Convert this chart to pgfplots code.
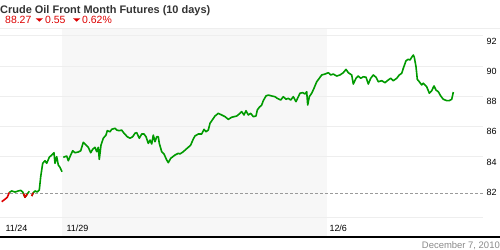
\documentclass[border=0pt]{standalone}
\usepackage{pgfplots}
\pgfplotsset{compat=1.18}
\usepackage{fontspec}
\setmainfont{Liberation Sans}
\definecolor{lgreen}{HTML}{009A00}
\definecolor{lred}{HTML}{DD0000}
\definecolor{gridc}{HTML}{EEEEEE}
\definecolor{shadec}{HTML}{F7F7F7}
\definecolor{titlec}{HTML}{333333}
\definecolor{datec}{HTML}{8A8A8A}
\definecolor{dashc}{HTML}{9A9A9A}
\begin{document}
\begin{tikzpicture}
\useasboundingbox (0,0) rectangle (500bp,250bp);
\begin{axis}[
  at={(0bp,13bp)}, anchor=south west,
  scale only axis, width=483bp, height=209bp,
  xmin=0, xmax=483, ymin=78.67, ymax=92.51,
  clip=false,
  axis on top,
  axis line style={draw=none},
  major tick length=0,
  /pgf/number format/assume math mode=true,
  xtick={2,63,326}, xticklabels={11/24,11/29,12/6},
  xticklabel style={anchor=base west, yshift=5.3bp, font=\fontsize{9}{10}\selectfont},
  ytick={82,84,86,88,90,92},
  yticklabel pos=right,
  yticklabel style={anchor=west, yshift=-5.5bp, font=\fontsize{9}{10}\selectfont},
]
\fill[shadec] (axis cs:62,78.67) rectangle (axis cs:327,92.51);
\draw[gridc, line width=0.8bp] (axis cs:0,80) -- (axis cs:483,80);
\draw[gridc, line width=0.8bp] (axis cs:0,84) -- (axis cs:483,84);
\draw[gridc, line width=0.8bp] (axis cs:0,86) -- (axis cs:483,86);
\draw[gridc, line width=0.8bp] (axis cs:0,88) -- (axis cs:483,88);
\draw[gridc, line width=0.8bp] (axis cs:0,90) -- (axis cs:483,90);
\draw[gridc, line width=0.8bp] (axis cs:0,92) -- (axis cs:483,92);
\draw[gridc, line width=0.8bp] (axis cs:0,92.51) -- (axis cs:500,92.51);
\draw[dashc, line width=0.8bp, dash pattern=on 3bp off 2bp] (axis cs:0,81.58) -- (axis cs:483,81.58);
\addplot[lgreen, line width=1.6bp, unbounded coords=jump, line join=round] table {
x y
9.3 81.62
11.7 81.72
15 81.65
18.3 81.72
20.7 81.76
22.7 81.65
25 81.30
27.3 81.52
29.3 81.70
30.5 nan
31.7 81.38
33.3 81.60
35 81.72
37.3 81.65
39.3 81.78
40.7 82.66
42.7 83.55
45 83.72
46.7 83.55
49.3 83.95
51.7 84.10
54 84.25
55 83.55
56.7 83.99
58.3 83.44
60 83.28
62 82.99
62.6 nan
63.3 83.95
66.7 84.03
68.3 83.72
70.7 84.10
72.7 84.38
75 84.25
78.3 84.30
80.7 84.38
83.3 84.94
86 84.76
88.3 84.61
90.7 84.25
92.7 84.48
95 84.61
96.7 84.32
98.3 84.61
99.3 83.81
101 84.76
103.3 85.21
106 85.42
107.3 85.71
110 85.64
111.7 85.80
115 85.87
116.7 85.75
119.3 85.71
121.7 85.75
124 85.54
127.3 85.31
130 85.21
132.7 85.31
135 85.54
136.7 85.58
139.3 85.21
141.7 85.49
144 85.49
146 85.31
148.3 84.87
150 85.09
151.7 84.83
153.3 85.42
155 84.98
156.7 85.31
158.3 85.31
159.3 84.87
161.7 84.32
164 84.17
166.7 83.77
168.3 83.59
170.7 83.88
175 84.10
178.3 84.21
180 84.17
183.3 84.32
186 84.48
188.3 84.61
190.7 84.76
193.3 85.16
195 85.36
198.3 85.49
201.7 85.49
204 85.80
206 85.64
208.3 85.75
210 86.20
212.7 86.46
215 86.68
218.3 86.86
221.7 86.75
225 86.64
228.3 86.46
231.7 86.60
236.7 86.68
240 86.86
241.7 86.97
244 86.75
246 87.03
248.3 86.75
250.7 86.86
253.3 86.64
256 86.68
257.3 87.08
259.3 87.26
261.7 87.41
263.3 87.70
266 88.01
268.3 88.07
271.7 88.01
275 87.96
277.3 87.85
280.7 87.74
283.3 87.96
286 87.79
288.3 87.85
290.7 87.74
293.3 87.96
296 87.63
298.3 87.96
300 88.19
302.7 88.23
305 88.14
306.7 88.29
307.7 87.41
309.3 87.96
311.7 88.19
314 88.52
316.7 88.95
319.3 89.18
321.7 89.40
325 89.46
328.3 89.55
330.7 89.40
333.3 89.46
336.7 89.33
340 89.40
343.3 89.55
346 89.77
348.3 89.55
351.7 89.40
353.3 88.80
356 89.18
358.3 89.33
360.7 89.18
363.3 89.28
366 89.25
368.3 88.80
370.7 89.18
373.3 89.40
376 89.25
378.3 88.95
381.7 89.02
385 88.89
388.3 89.07
390.7 89.18
393.3 89.02
396.7 89.18
399.3 89.40
401.7 89.51
403.3 89.84
406 90.34
408.3 90.44
410 90.39
411.7 90.57
413.3 90.72
414.3 90.57
416 89.95
417.3 89.11
419.3 88.95
421.7 88.74
423.3 88.85
425 88.74
426.7 88.62
429.3 88.19
431.7 88.36
434 88.67
436 88.40
438.3 88.29
440.7 88.01
443.3 87.79
446.7 87.70
449.3 87.70
451.7 87.79
452.7 88.07
453.3 88.27
};
\addplot[lred, line width=1.6bp, line join=round] table {
x y
1.7 81.01
5 81.17
7.3 81.30
9.3 81.62
};
\addplot[lred, line width=1.6bp, line join=round] table {
x y
23.5 81.55
25 81.30
27.3 81.52
};
\addplot[lred, line width=1.6bp, line join=round] table {
x y
31.7 81.38
33.3 81.60
};
\draw[black, line width=2bp] (axis cs:0,78.67) -- (axis cs:500,78.67);
\end{axis}
\node[anchor=base west, inner sep=0, font=\bfseries\fontsize{11}{13}\selectfont, text=titlec] at (0bp,236.5bp) {Crude Oil Front Month Futures (10 days)};
\node[anchor=base west, inner sep=0, font=\fontsize{10.5}{12}\selectfont, text=lred] at (5bp,226bp) {88.27};
\fill[lred] (35.7bp,231.7bp) -- (43bp,231.7bp) -- (39.35bp,228.3bp) -- cycle;
\node[anchor=base west, inner sep=0, font=\fontsize{10.5}{12}\selectfont, text=lred] at (45bp,226bp) {0.55};
\fill[lred] (73bp,231.7bp) -- (80.3bp,231.7bp) -- (76.65bp,228.3bp) -- cycle;
\node[anchor=base west, inner sep=0, font=\fontsize{10.5}{12}\selectfont, text=lred] at (82bp,226bp) {0.62\%};
\node[anchor=base east, inner sep=0, font=\fontsize{9.5}{11}\selectfont, text=datec] at (500bp,2bp) {December 7, 2010};
\end{tikzpicture}
\end{document}
